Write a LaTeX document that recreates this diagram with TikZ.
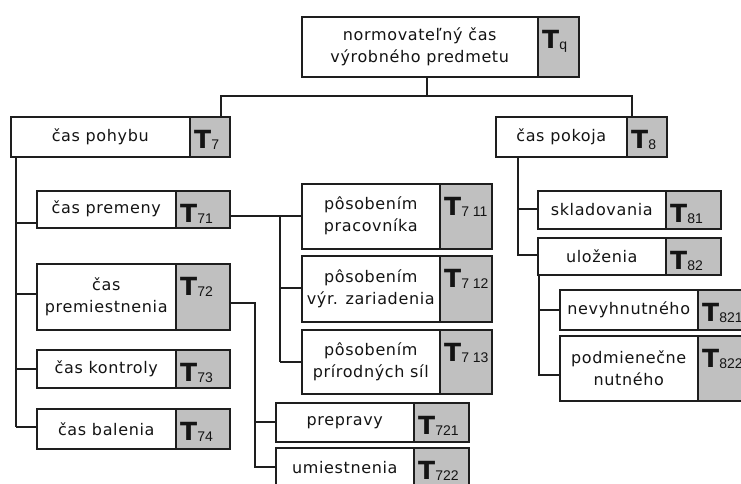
\documentclass[tikz,border=0pt]{standalone}
\usepackage{fontspec}
\newfontfamily\lblfont[LetterSpace=4]{DejaVu Sans}
\newfontfamily\tfont{DejaVu Sans}
\newfontfamily\subfont{Liberation Sans}
\definecolor{cellgray}{RGB}{192,192,192}
\definecolor{linec}{RGB}{30,30,30}
\definecolor{textc}{RGB}{20,20,20}

% one labelled cell: name, left, top, gray-left, right, bottom, text, index
\newcommand\cellbox[8]{%
  \node[graypart, minimum width={(#5-#4)*1pt}, minimum height={(#6-#3)*1pt},
        anchor=north west] (#1T) at (#4,#3) {};
  \node[whitepart, minimum width={(#4-#2)*1pt}, minimum height={(#6-#3)*1pt},
        anchor=north west] (#1) at (#2,#3) {#7};
  \node[tlabel, anchor=base west] (#1L) at ({#4+5},{#3+32})
    {{\tfont\bfseries\fontsize{25}{25}\selectfont T}\raisebox{-1.5pt}{\subfont\fontsize{14}{14}\selectfont #8}};
}

\tikzset{
  whitepart/.style={draw=linec, line width=1.5pt, fill=white, inner sep=0pt,
    align=center, text=textc, font=\lblfont\fontsize{16}{22}\selectfont},
  graypart/.style={draw=linec, line width=1.5pt, fill=cellgray, inner sep=0pt},
  tlabel/.style={inner sep=0pt, text=textc},
  conn/.style={draw=linec, line width=1.5pt}
}

\begin{document}
\begin{tikzpicture}[x=1pt, y=-1pt]
\path[use as bounding box] (0,0) rectangle (741,483);
\clip (0,0) rectangle (741,483);
\fill[white] (0,0) rectangle (741,483);

% junction points of the connectors
\coordinate (j0) at (427,96);
\coordinate (hL) at (221,96);
\coordinate (hR) at (632,96);
\coordinate (t71) at (280,216);
\coordinate (t72) at (255,303);

% connectors (drawn first, boxes cover their ends)
\draw[conn] (427,76) -- (j0);
\draw[conn] (221,116) -- (hL) -- (hR) -- (632,116);
% time of movement
\draw[conn] (16,156) -- (16,427);
\draw[conn] (16,223) -- (36,223);
\draw[conn] (16,294) -- (36,294);
\draw[conn] (16,369) -- (36,369);
\draw[conn] (16,427) -- (36,427);
\draw[conn] (229,216) -- (301,216);
\draw[conn] (t71) -- (280,362);
\draw[conn] (280,288) -- (301,288);
\draw[conn] (280,362) -- (301,362);
\draw[conn] (229,303) -- (t72) -- (255,467) -- (275,467);
\draw[conn] (255,422) -- (275,422);
% time of rest
\draw[conn] (518,156) -- (518,255) -- (537,255);
\draw[conn] (518,209) -- (537,209);
\draw[conn] (539,274) -- (539,375) -- (559,375);
\draw[conn] (539,310) -- (559,310);

% cells
\cellbox{top}{301}{16}{537}{578}{76}{normovateľný čas\\výrobného predmetu}{q}
\cellbox{pohybu}{10}{116}{189}{229}{156}{čas pohybu}{7}
\cellbox{premeny}{36}{190}{175}{229}{227}{čas premeny}{71}
\cellbox{premiest}{36}{263}{175}{229}{329}{čas\\premiestnenia}{72}
\cellbox{kontroly}{36}{349}{175}{229}{387}{čas kontroly}{73}
\cellbox{balenia}{36}{408}{175}{229}{448}{čas balenia}{74}
\cellbox{pos1}{301}{183}{439}{491}{248}{pôsobením\\pracovníka}{7 11}
\cellbox{pos2}{301}{255}{439}{491}{321}{pôsobením\\výr. zariadenia}{7 12}
\cellbox{pos3}{301}{329}{439}{491}{393}{pôsobením\\prírodných síl}{7 13}
\cellbox{prepravy}{275}{402}{413}{468}{441}{prepravy}{721}
\cellbox{umiest}{275}{447}{413}{468}{487}{umiestnenia}{722}
\cellbox{pokoja}{495}{116}{626}{666}{156}{čas pokoja}{8}
\cellbox{sklad}{537}{190}{665}{720}{228}{skladovania}{81}
\cellbox{ulozenia}{537}{237}{665}{720}{274}{uloženia}{82}
\cellbox{nevyh}{559}{289}{697}{747}{329}{nevyhnutného}{821}
\cellbox{podm}{559}{335}{697}{747}{400}{podmienečne\\nutného}{822}
\end{tikzpicture}
\end{document}
